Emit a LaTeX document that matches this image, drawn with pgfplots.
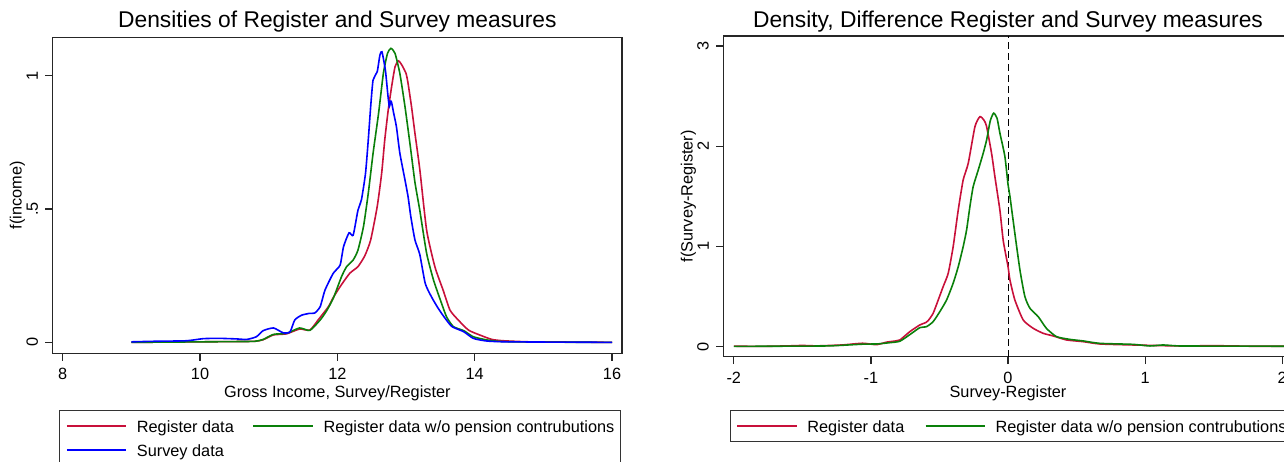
\documentclass[border=0pt]{standalone}
\usepackage{fontspec}
\setmainfont{Liberation Sans}
\usepackage{pgfplots}
\pgfplotsset{compat=1.18}

\definecolor{regred}{RGB}{200,16,58}
\definecolor{nopgreen}{RGB}{10,128,10}
\definecolor{survblue}{RGB}{0,0,255}
\newcommand\lbl{\fontsize{16.3}{19}\selectfont}
\newcommand\ttl{\fontsize{22.8}{27}\selectfont}

\pgfplotsset{
  statapanel/.style={
    scale only axis,
    anchor=south west,
    axis line style={line width=1.3pt, black!85},
    tick align=outside,
    major tick length=7.5pt,
    tick style={line width=1.2pt, black!85},
    xtick pos=left, ytick pos=left,
    tick label style={font=\lbl, inner sep=0pt},
    % outside ticks already push the labels out by the tick length
    xticklabel style={anchor=north, yshift=-7.5pt},
    yticklabel style={rotate=90, anchor=south, yshift=7pt},
    label style={font=\lbl, inner sep=0pt},
    ylabel style={at={(axis description cs:0,0.5)}, anchor=south, yshift=27.4pt},
    title style={font=\ttl, inner sep=0pt, at={(axis description cs:0.5,1)}, anchor=base},
    legend cell align=left,
    legend image code/.code={\draw[#1] (0pt,0pt) -- (59.3pt,0pt);},
    every axis plot/.append style={line width=1.6pt, smooth, tension=0.35},
  },
  statalegend/.style={
    anchor=north west, draw=black!80, line width=1pt,
    inner xsep=6.5pt, inner ysep=5pt, row sep=2.5pt, column sep=10pt,
    font=\lbl,
    nodes={inner sep=0pt, text height=17.5pt, text depth=4pt},
  },
}

\begin{document}
\begin{tikzpicture}

% left panel: income densities
\begin{axis}[statapanel,
  at={(52.7pt,108.7pt)}, width=569.3pt, height=316pt,
  xmin=7.855, xmax=16.145, ymin=-0.041, ymax=1.1445,
  xtick={8,10,12,14,16}, xticklabels={8,10,12,14,16},
  ytick={0,0.5,1}, yticklabels={0,.5,1},
  title={Densities of Register and Survey measures},
  title style={yshift=3.3pt},
  xlabel={Gross Income, Survey/Register},
  xlabel style={at={(axis description cs:0.5,0)}, anchor=base, yshift=-44pt},
  ylabel={f(income)},
  legend columns=2,
  legend style={statalegend, at={(axis description cs:0.01107,-0.1794)},
    /tikz/every even column/.append style={column sep=18.8pt}},
]
\addplot[regred] coordinates {
(9.0,0.000) (9.5,0.001) (10.0,0.002) (10.5,0.003) (10.8,0.004) (10.92,0.010)
(11.07,0.028) (11.26,0.032) (11.45,0.050) (11.60,0.046) (11.72,0.084) (11.87,0.134)
(11.94,0.168) (12.04,0.209) (12.18,0.259) (12.30,0.284) (12.40,0.325) (12.485,0.384)
(12.58,0.509) (12.645,0.634) (12.69,0.759) (12.74,0.870) (12.79,0.959) (12.84,1.034)
(12.89,1.056) (12.94,1.040) (13.00,1.009) (13.03,0.971) (13.08,0.884) (13.13,0.784)
(13.20,0.650) (13.30,0.421) (13.42,0.284) (13.54,0.196) (13.64,0.121) (13.76,0.084)
(13.91,0.046) (14.08,0.027) (14.25,0.011) (14.42,0.006) (14.8,0.002) (15.5,0.001) (16.0,0.000)
};
\addlegendentry{Register data}
\addplot[nopgreen] coordinates {
(9.0,0.000) (9.5,0.001) (10.0,0.002) (10.5,0.003) (10.8,0.004) (10.92,0.011)
(11.07,0.030) (11.26,0.034) (11.45,0.054) (11.60,0.045) (11.75,0.084) (11.84,0.117)
(11.94,0.165) (12.06,0.246) (12.135,0.284) (12.23,0.309) (12.30,0.346) (12.38,0.434)
(12.45,0.559) (12.52,0.709) (12.60,0.859) (12.67,1.009) (12.73,1.084) (12.78,1.103)
(12.84,1.084) (12.91,1.009) (12.985,0.884) (13.06,0.740) (13.13,0.600) (13.20,0.496)
(13.30,0.334) (13.40,0.234) (13.50,0.159) (13.59,0.096) (13.69,0.059) (13.84,0.044)
(13.98,0.021) (14.18,0.009) (14.4,0.003) (15.0,0.001) (16.0,0.000)
};
\addlegendentry{Register data w/o pension contrubutions}
\addplot[survblue] coordinates {
(9.0,0.002) (9.32,0.004) (9.80,0.006) (10.05,0.014) (10.29,0.015) (10.53,0.013)
(10.68,0.011) (10.82,0.021) (10.92,0.044) (11.07,0.054) (11.21,0.036) (11.31,0.039)
(11.38,0.084) (11.48,0.102) (11.60,0.109) (11.67,0.110) (11.75,0.134) (11.82,0.196)
(11.94,0.259) (12.04,0.290) (12.09,0.359) (12.17,0.411) (12.23,0.402) (12.30,0.496)
(12.35,0.534) (12.41,0.634) (12.45,0.759) (12.485,0.884) (12.52,0.984) (12.58,1.015)
(12.62,1.078) (12.65,1.090) (12.70,1.020) (12.735,0.930) (12.757,0.884) (12.775,0.905)
(12.79,0.900) (12.82,0.860) (12.86,0.809) (12.91,0.710) (12.985,0.609) (13.03,0.546)
(13.07,0.471) (13.13,0.384) (13.20,0.330) (13.28,0.221) (13.37,0.171) (13.47,0.127)
(13.57,0.090) (13.67,0.059) (13.84,0.040) (13.98,0.015) (14.18,0.005) (14.5,0.002) (16.0,0.000)
};
\addlegendentry{Survey data}
\end{axis}

% right panel: density of the difference
\begin{axis}[statapanel,
  at={(723.5pt,105.3pt)}, width=569pt, height=320.7pt,
  xmin=-2.075, xmax=2.075, ymin=-0.1, ymax=3.1,
  xtick={-2,-1,0,1,2}, xticklabels={-2,-1,0,1,2},
  ytick={0,1,2,3}, yticklabels={0,1,2,3},
  title={Density, Difference Register and Survey measures},
  title style={yshift=2.7pt},
  xlabel={Survey-Register},
  xlabel style={at={(axis description cs:0.5,0)}, anchor=base, yshift=-40.6pt},
  ylabel={f(Survey-Register)},
  legend columns=2,
  legend style={statalegend, at={(axis description cs:0.01054,-0.1662)},
    /tikz/every even column/.append style={column sep=20.4pt}},
]
\addplot[black, dashed, line width=1pt, dash pattern=on 7pt off 4pt, forget plot, sharp plot]
  coordinates {(0,-0.1) (0,3.1)};
\addplot[regred] coordinates {
(-2.0,0.005) (-1.8,0.003) (-1.6,0.008) (-1.5,0.012) (-1.4,0.008) (-1.3,0.012)
(-1.2,0.018) (-1.06,0.034) (-0.96,0.020) (-0.886,0.045) (-0.82,0.057) (-0.788,0.067)
(-0.716,0.150) (-0.643,0.217) (-0.60,0.240) (-0.582,0.260) (-0.546,0.333) (-0.509,0.466)
(-0.473,0.599) (-0.436,0.733) (-0.40,0.998) (-0.363,1.364) (-0.327,1.664) (-0.29,1.83)
(-0.241,2.196) (-0.205,2.295) (-0.175,2.26) (-0.156,2.196) (-0.12,1.93) (-0.096,1.70)
(-0.059,1.36) (-0.035,1.06) (0.0,0.80) (0.014,0.666) (0.05,0.466) (0.111,0.266)
(0.184,0.183) (0.257,0.133) (0.33,0.107) (0.427,0.067) (0.549,0.050) (0.67,0.027)
(0.913,0.017) (1.254,0.007) (1.5,0.010) (1.8,0.004) (2.1,0.004)
};
\addlegendentry{Register data}
\addplot[nopgreen] coordinates {
(-2.0,0.003) (-1.6,0.005) (-1.3,0.008) (-1.06,0.025) (-0.958,0.027) (-0.861,0.040)
(-0.788,0.055) (-0.703,0.133) (-0.643,0.190) (-0.594,0.200) (-0.546,0.250) (-0.497,0.350)
(-0.448,0.466) (-0.40,0.633) (-0.363,0.798) (-0.327,0.998) (-0.302,1.165) (-0.278,1.397)
(-0.254,1.597) (-0.217,1.763) (-0.181,1.930) (-0.156,2.063) (-0.13,2.25) (-0.105,2.33)
(-0.08,2.28) (-0.059,2.13) (-0.023,1.90) (0.0,1.62) (0.014,1.50) (0.05,1.13)
(0.087,0.765) (0.123,0.50) (0.16,0.383) (0.22,0.300) (0.28,0.183) (0.354,0.100)
(0.45,0.073) (0.55,0.057) (0.67,0.033) (0.913,0.023) (1.035,0.007) (1.13,0.017)
(1.254,0.007) (1.6,0.006) (2.1,0.004)
};
\addlegendentry{Register data w/o pension contrubutions}
\end{axis}

\pgfresetboundingbox
\path[use as bounding box] (0pt,0pt) rectangle (1284pt,462pt);
\end{tikzpicture}
\end{document}
